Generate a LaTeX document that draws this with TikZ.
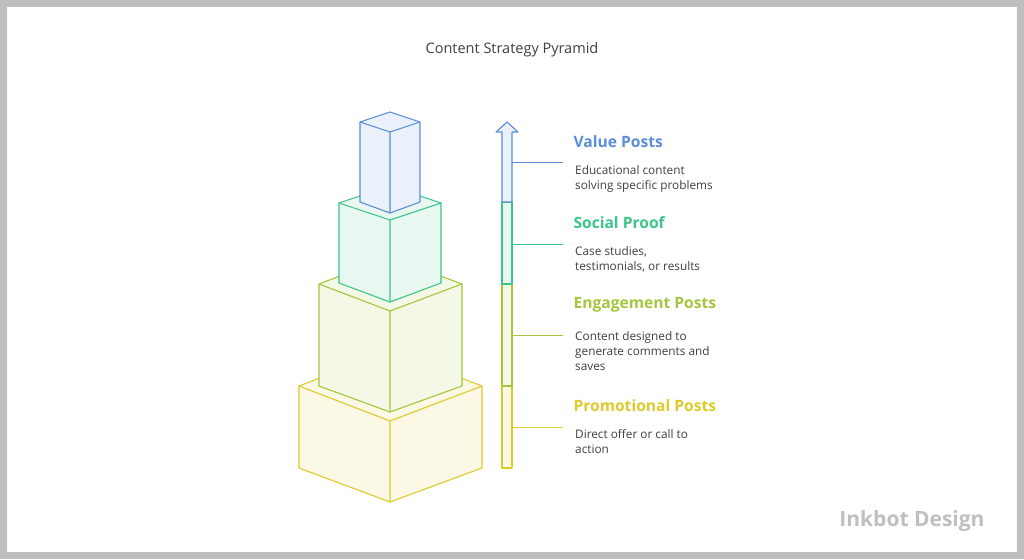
\documentclass[tikz,border=0pt]{standalone}
\usepackage{fontspec}
\setmainfont{Open Sans}
\begin{document}
\begin{tikzpicture}[x=1pt,y=-1pt,line join=round,
  face/.style={line width=1.1pt},
  head/.style={anchor=west,font=\fontsize{15.6}{18}\selectfont\bfseries},
  desc/.style={anchor=north west,align=left,text=black!75,font=\fontsize{11.8}{15}\selectfont,inner sep=0},
  tick/.style={line width=0.9pt}]
\definecolor{cb}{HTML}{5B8DD9}\definecolor{cg}{HTML}{3CC48A}
\definecolor{cl}{HTML}{A5C63B}\definecolor{cy}{HTML}{DCCB2A}
\fill[black!25] (0,0) rectangle (1024,559);
\fill[white] (7,7) rectangle (1017,552);
\useasboundingbox (0,0) rectangle (1024,559);
\node[text=black!75] (title) at (512,50) {\fontsize{14.5}{17}\selectfont Content Strategy Pyramid};
\newcommand\boxx[8]{%
 \filldraw[face,draw=#1,fill=#1!12] (#2,#4) -- (390,#8) -- (#3,#4) -- (#3,#7) -- (390,#6) -- (#2,#7) -- cycle;
 \draw[face,#1] (#2,#4) -- (390,#5) -- (#3,#4) (390,#5) -- (390,#6);}
\boxx{cy}{299}{482}{386}{421}{502}{468}{351}
\boxx{cl}{319}{462}{284}{311}{412}{386}{257}
\boxx{cg}{339}{441}{203}{220}{302}{283}{186}
\boxx{cb}{360}{420}{122}{132}{213}{202}{112}
\filldraw[face,draw=cy,fill=cy!12] (502,386) rectangle (512,468);
\filldraw[face,draw=cl,fill=cl!12] (502,284) rectangle (512,386);
\filldraw[face,draw=cg,fill=cg!12] (502,202) rectangle (512,284);
\filldraw[face,draw=cb,fill=cb!12] (502,202) -- (502,132) -- (496,132) -- (507,122) -- (518,132) -- (512,132) -- (512,202) -- cycle;
\coordinate (t1) at (512,162);\coordinate (t2) at (512,244);\coordinate (t3) at (512,335);\coordinate (t4) at (512,427);
\node[head,text=cb] (h1) at (570,142) {Value Posts};
\node[head,text=cg] (h2) at (570,223) {Social Proof};
\node[head,text=cl] (h3) at (570,305) {Engagement Posts};
\node[head,text=cy] (h4) at (570,406) {Promotional Posts};
\draw[tick,cb] (t1) -- (563,162);\draw[tick,cg] (t2) -- (563,244);
\draw[tick,cl] (t3) -- (563,335);\draw[tick,cy] (t4) -- (563,427);
\node[desc] (d1) at (575,165) {Educational content\\solving specific problems};
\node[desc] (d2) at (575,246) {Case studies,\\testimonials, or results};
\node[desc] (d3) at (575,331) {Content designed to\\generate comments and\\saves};
\node[desc] (d4) at (575,429) {Direct offer or call to\\action};
\node[text=black!25] (wm) at (912,521) {\fontsize{21}{24}\selectfont\bfseries Inkbot Design};
\end{tikzpicture}
\end{document}
